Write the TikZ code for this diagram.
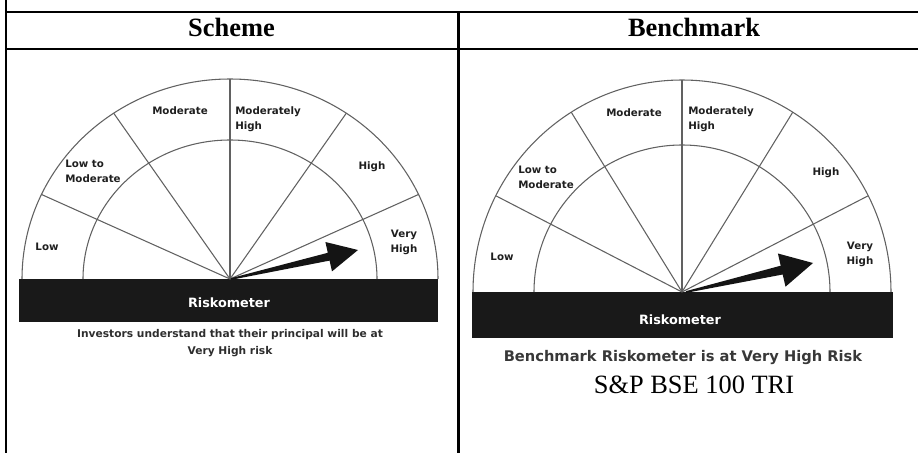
\documentclass[tikz,border=0pt]{standalone}
\usepackage{fontspec}
\setmainfont{Liberation Serif}
\newfontfamily\rsans{DejaVu Sans}
\begin{document}
\begin{tikzpicture}[x=0.75pt,y=-0.75pt,
  grid/.style={line width=1.6pt, black},
  arcline/.style={line width=0.8pt, draw=black!62},
  lbl/.style={font=\rsans\bfseries\fontsize{7.7}{11.4}\selectfont, text=black!88, inner sep=0pt},
  barbox/.style={fill=black!90, draw=none},
  barlbl/.style={font=\rsans\bfseries\fontsize{9.6}{11}\selectfont, text=white, inner sep=0pt},
  caplbl/.style={font=\rsans\bfseries\fontsize{8}{12.5}\selectfont, text=black!82, inner sep=0pt, align=center},
  bcaplbl/.style={font=\rsans\bfseries\fontsize{11}{13}\selectfont, text=black!78, inner sep=0pt},
  headlbl/.style={font=\bfseries\fontsize{19.8}{22}\selectfont, inner sep=0pt, anchor=base},
  plainlbl/.style={font=\fontsize{19.8}{22}\selectfont, inner sep=0pt, anchor=base},
  needle/.style={fill=black!92, draw=none}
]
\useasboundingbox (0,0) rectangle (918,453);

% ---------- table ----------
\draw[grid] (6,0) -- (6,453);
\draw[grid] (6,12) -- (918,12);
\draw[grid] (6,49) -- (918,49);
\draw[grid] (458.5,12) -- (458.5,453);
\node[headlbl] (hscheme) at (231.5,37) {Scheme};
\node[headlbl] (hbench) at (694,37) {Benchmark};

% ---------- scheme riskometer ----------
\fill[barbox] (19,279) rectangle (438,322);
\draw[arcline] (22,279) arc[start angle=180,end angle=360,x radius=208,y radius=200];
\draw[arcline] (83,279) arc[start angle=180,end angle=360,x radius=147,y radius=139];
\foreach \a in {25,56,90,124,155}
  \draw[arcline] (230,279) -- ++(-\a:208 and 200);
\fill[needle] (230.8,278.2) -- (327.8,252.8) -- (325.4,242) -- (358,250)
  -- (332,271.4) -- (329.6,260.6) -- (231.2,279.8) -- cycle;
\node[lbl] (s1) at (47,247) {Low};
\node[lbl, anchor=north west, align=left] (s2) at (65,160) {Low to\\Moderate};
\node[lbl] (s3) at (180,111) {Moderate};
\node[lbl, anchor=north west, align=left] (s4) at (235,106) {Moderately\\High};
\node[lbl] (s5) at (372,167) {High};
\node[lbl, align=center] (s6) at (404,242.5) {Very\\High};
\node[barlbl] (srisk) at (229,303) {Riskometer};
\node[caplbl] (scap) at (230,343) {Investors understand that their principal will be at\\Very High risk};

% ---------- benchmark riskometer ----------
\fill[barbox] (472,292) rectangle (893,338);
\draw[arcline] (473,292) arc[start angle=180,end angle=360,x radius=209,y radius=212];
\draw[arcline] (534,292) arc[start angle=180,end angle=360,x radius=148,y radius=147];
\foreach \a in {27,58,90,122,153}
  \draw[arcline] (682,292) -- ++(-\a:209 and 212);
\fill[needle] (685.8,291.2) -- (780.7,265.7) -- (777.9,253.5) -- (813,263)
  -- (785.5,286.7) -- (782.7,274.5) -- (686.2,292.8) -- cycle;
\node[lbl] (b1) at (502,257) {Low};
\node[lbl, anchor=north west, align=left] (b2) at (518,166) {Low to\\Moderate};
\node[lbl] (b3) at (634,113) {Moderate};
\node[lbl, anchor=north west, align=left] (b4) at (688,106) {Moderately\\High};
\node[lbl] (b5) at (826,173) {High};
\node[lbl, align=center] (b6) at (860,254.5) {Very\\High};
\node[barlbl] (brisk) at (680,320) {Riskometer};
\node[bcaplbl] (bcap) at (683,358) {Benchmark Riskometer is at Very High Risk};
\node[plainlbl] (bidx) at (694,393) {S\&P BSE 100 TRI};
\end{tikzpicture}
\end{document}
